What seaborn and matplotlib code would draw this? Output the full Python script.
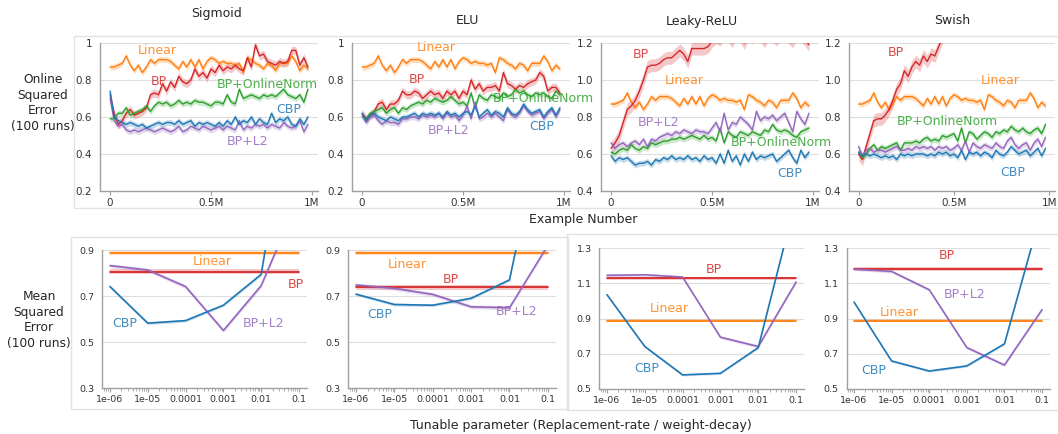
import numpy as np
import matplotlib
matplotlib.use("Agg")
import matplotlib.pyplot as plt
from matplotlib.patches import Rectangle
import seaborn as sns

sns.set_style("white")
plt.rcParams['font.family'] = ['DejaVu Sans']

# ---------------- data: online error (top row) ----------------
examples = np.arange(0, 1_000_000, 20_000)   # checkpoints every 20k examples

linear_online = [0.87, 0.87, 0.88, 0.89, 0.93, 0.88, 0.85, 0.88, 0.84, 0.87,
                 0.91, 0.89, 0.91, 0.91, 0.91, 0.90, 0.88, 0.86, 0.90, 0.87,
                 0.91, 0.87, 0.91, 0.86, 0.90, 0.92, 0.91, 0.89, 0.90, 0.89,
                 0.89, 0.88, 0.89, 0.84, 0.92, 0.91, 0.89, 0.88, 0.86, 0.89,
                 0.88, 0.85, 0.89, 0.89, 0.89, 0.93, 0.90, 0.85, 0.88, 0.86]

sigmoid_bp = [0.72, 0.62, 0.56, 0.58, 0.62, 0.64, 0.61, 0.62, 0.63, 0.65,
              0.72, 0.73, 0.72, 0.78, 0.74, 0.79, 0.76, 0.82, 0.79, 0.78,
              0.80, 0.86, 0.82, 0.84, 0.81, 0.86, 0.84, 0.88, 0.85, 0.87,
              0.86, 0.88, 0.86, 0.85, 0.92, 0.87, 0.99, 0.93, 0.94, 0.90,
              0.89, 0.88, 0.90, 0.89, 0.90, 0.96, 0.96, 0.88, 0.92, 0.87]
sigmoid_norm = [0.59, 0.59, 0.62, 0.62, 0.65, 0.61, 0.62, 0.63, 0.64, 0.66,
                0.63, 0.66, 0.68, 0.67, 0.68, 0.66, 0.67, 0.69, 0.67, 0.68,
                0.67, 0.69, 0.68, 0.68, 0.67, 0.66, 0.68, 0.68, 0.67, 0.72,
                0.68, 0.67, 0.75, 0.70, 0.71, 0.72, 0.71, 0.70, 0.72, 0.71,
                0.72, 0.71, 0.73, 0.75, 0.72, 0.71, 0.70, 0.72, 0.68, 0.75]
sigmoid_cbp = [0.74, 0.60, 0.58, 0.57, 0.56, 0.57, 0.56, 0.55, 0.56, 0.54,
               0.55, 0.56, 0.57, 0.56, 0.57, 0.57, 0.56, 0.58, 0.56, 0.57,
               0.58, 0.55, 0.57, 0.56, 0.57, 0.56, 0.55, 0.57, 0.55, 0.58,
               0.56, 0.60, 0.56, 0.58, 0.57, 0.60, 0.56, 0.59, 0.57, 0.56,
               0.62, 0.57, 0.59, 0.58, 0.60, 0.56, 0.55, 0.59, 0.56, 0.60]
sigmoid_l2 = [0.70, 0.58, 0.55, 0.56, 0.53, 0.52, 0.53, 0.52, 0.53, 0.54,
              0.53, 0.52, 0.53, 0.54, 0.53, 0.52, 0.53, 0.55, 0.52, 0.53,
              0.55, 0.54, 0.53, 0.55, 0.54, 0.53, 0.54, 0.55, 0.53, 0.55,
              0.54, 0.53, 0.58, 0.53, 0.55, 0.54, 0.56, 0.55, 0.56, 0.54,
              0.56, 0.55, 0.54, 0.57, 0.55, 0.54, 0.55, 0.58, 0.52, 0.56]

elu_bp = [0.62, 0.59, 0.61, 0.63, 0.67, 0.68, 0.64, 0.67, 0.67, 0.69,
          0.74, 0.72, 0.72, 0.74, 0.73, 0.70, 0.72, 0.74, 0.72, 0.73,
          0.70, 0.74, 0.72, 0.74, 0.70, 0.74, 0.72, 0.80, 0.75, 0.78,
          0.74, 0.76, 0.76, 0.77, 0.74, 0.84, 0.78, 0.77, 0.75, 0.77,
          0.76, 0.78, 0.79, 0.80, 0.84, 0.82, 0.74, 0.76, 0.76, 0.73]
elu_norm = [0.60, 0.59, 0.62, 0.63, 0.64, 0.65, 0.62, 0.64, 0.65, 0.62,
            0.65, 0.64, 0.66, 0.67, 0.68, 0.67, 0.69, 0.68, 0.70, 0.69,
            0.68, 0.69, 0.71, 0.69, 0.67, 0.68, 0.66, 0.73, 0.65, 0.72,
            0.70, 0.69, 0.72, 0.71, 0.70, 0.73, 0.71, 0.72, 0.75, 0.73,
            0.74, 0.72, 0.71, 0.73, 0.72, 0.73, 0.71, 0.70, 0.74, 0.72]
elu_cbp = [0.62, 0.58, 0.61, 0.62, 0.60, 0.59, 0.58, 0.60, 0.59, 0.58,
           0.60, 0.60, 0.61, 0.62, 0.60, 0.62, 0.61, 0.62, 0.61, 0.62,
           0.60, 0.63, 0.61, 0.62, 0.60, 0.62, 0.63, 0.61, 0.66, 0.60,
           0.62, 0.64, 0.61, 0.63, 0.62, 0.60, 0.65, 0.62, 0.61, 0.63,
           0.67, 0.64, 0.62, 0.63, 0.64, 0.60, 0.63, 0.65, 0.61, 0.65]
elu_l2 = [0.61, 0.57, 0.60, 0.61, 0.58, 0.56, 0.58, 0.57, 0.57, 0.56,
          0.59, 0.59, 0.60, 0.60, 0.59, 0.61, 0.60, 0.61, 0.60, 0.62,
          0.59, 0.62, 0.60, 0.61, 0.58, 0.61, 0.66, 0.59, 0.68, 0.59,
          0.60, 0.62, 0.60, 0.62, 0.60, 0.58, 0.64, 0.61, 0.60, 0.62,
          0.66, 0.63, 0.61, 0.62, 0.63, 0.59, 0.62, 0.64, 0.60, 0.64]

leaky_bp = [0.63, 0.66, 0.70, 0.77, 0.84, 0.86, 0.89, 0.94, 1.00, 1.07,
            1.08, 1.08, 1.09, 1.11, 1.12, 1.12, 1.14, 1.16, 1.14, 1.10,
            1.17, 1.17, 1.17, 1.17, 1.18, 1.21, 1.23, 1.22, 1.25, 1.24,
            1.21, 1.26, 1.24, 1.20, 1.25, 1.23, 1.26, 1.24, 1.21, 1.25,
            1.24, 1.22, 1.25, 1.26, 1.23, 1.21, 1.25, 1.24, 1.22, 1.19]
leaky_norm = [0.61, 0.60, 0.62, 0.63, 0.62, 0.65, 0.63, 0.62, 0.64, 0.63,
              0.66, 0.65, 0.66, 0.67, 0.67, 0.68, 0.68, 0.69, 0.68, 0.69,
              0.70, 0.69, 0.68, 0.70, 0.68, 0.69, 0.67, 0.74, 0.66, 0.72,
              0.70, 0.69, 0.72, 0.71, 0.70, 0.72, 0.71, 0.70, 0.73, 0.72,
              0.76, 0.73, 0.72, 0.73, 0.72, 0.70, 0.69, 0.72, 0.73, 0.74]
leaky_cbp = [0.59, 0.56, 0.58, 0.57, 0.58, 0.56, 0.54, 0.55, 0.55, 0.56,
             0.54, 0.57, 0.56, 0.58, 0.57, 0.59, 0.57, 0.58, 0.57, 0.59,
             0.57, 0.58, 0.56, 0.59, 0.57, 0.58, 0.55, 0.60, 0.55, 0.62,
             0.56, 0.59, 0.54, 0.60, 0.56, 0.61, 0.57, 0.59, 0.58, 0.59,
             0.60, 0.56, 0.58, 0.60, 0.62, 0.58, 0.55, 0.62, 0.58, 0.61]
leaky_l2 = [0.66, 0.63, 0.65, 0.66, 0.64, 0.66, 0.67, 0.65, 0.68, 0.64,
            0.68, 0.67, 0.69, 0.70, 0.71, 0.70, 0.72, 0.71, 0.73, 0.72,
            0.71, 0.73, 0.72, 0.72, 0.71, 0.74, 0.77, 0.72, 0.82, 0.73,
            0.77, 0.76, 0.80, 0.78, 0.76, 0.73, 0.83, 0.78, 0.80, 0.79,
            0.81, 0.78, 0.80, 0.82, 0.77, 0.72, 0.83, 0.79, 0.76, 0.82]

swish_bp = [0.60, 0.57, 0.64, 0.71, 0.78, 0.79, 0.79, 0.81, 0.84, 0.89,
            0.95, 0.98, 1.05, 1.02, 1.07, 1.10, 1.08, 1.13, 1.10, 1.14,
            1.13, 1.18, 1.23, 1.26, 1.29, 1.27, 1.31, 1.34, 1.32, 1.36,
            1.38, 1.35, 1.40, 1.42, 1.39, 1.44, 1.43, 1.46, 1.45, 1.48,
            1.47, 1.50, 1.49, 1.52, 1.50, 1.53, 1.55, 1.52, 1.56, 1.55]
swish_norm = [0.61, 0.58, 0.60, 0.63, 0.65, 0.62, 0.64, 0.63, 0.64, 0.65,
              0.66, 0.62, 0.66, 0.66, 0.66, 0.67, 0.66, 0.68, 0.69, 0.67,
              0.68, 0.67, 0.70, 0.69, 0.70, 0.71, 0.67, 0.74, 0.66, 0.72,
              0.71, 0.68, 0.70, 0.72, 0.71, 0.69, 0.72, 0.71, 0.73, 0.72,
              0.75, 0.73, 0.72, 0.74, 0.72, 0.71, 0.73, 0.74, 0.71, 0.76]
swish_cbp = [0.61, 0.59, 0.60, 0.59, 0.60, 0.59, 0.58, 0.59, 0.58, 0.59,
             0.57, 0.60, 0.59, 0.60, 0.59, 0.60, 0.60, 0.60, 0.59, 0.60,
             0.59, 0.61, 0.60, 0.61, 0.59, 0.60, 0.58, 0.62, 0.57, 0.61,
             0.60, 0.61, 0.59, 0.61, 0.60, 0.58, 0.62, 0.60, 0.59, 0.61,
             0.64, 0.62, 0.60, 0.61, 0.62, 0.59, 0.61, 0.63, 0.59, 0.63]
swish_l2 = [0.64, 0.59, 0.62, 0.63, 0.61, 0.62, 0.62, 0.61, 0.62, 0.63,
            0.64, 0.62, 0.62, 0.63, 0.62, 0.64, 0.63, 0.64, 0.63, 0.64,
            0.62, 0.64, 0.63, 0.64, 0.62, 0.63, 0.65, 0.62, 0.67, 0.61,
            0.66, 0.64, 0.63, 0.65, 0.64, 0.63, 0.66, 0.64, 0.63, 0.67,
            0.69, 0.65, 0.63, 0.65, 0.66, 0.62, 0.66, 0.68, 0.64, 0.69]

# ---------------- data: parameter sweep (bottom row) ----------------
params = [1e-6, 1e-5, 1e-4, 1e-3, 1e-2, 1e-1]
param_labels = ['1e-06', '1e-05', '0.0001', '0.001', '0.01', '0.1']

linear_mse = [0.886, 0.886, 0.887, 0.887]     # Sigmoid, ELU, Leaky-ReLU, Swish
bp_mse = [0.806, 0.737, 1.127, 1.180]
sigmoid_cbp_mse = [0.741, 0.582, 0.593, 0.660, 0.794, 1.78]
sigmoid_l2_mse = [0.832, 0.813, 0.741, 0.550, 0.745, 1.13]
elu_cbp_mse = [0.708, 0.663, 0.660, 0.690, 0.770, 1.56]
elu_l2_mse = [0.748, 0.733, 0.707, 0.653, 0.649, 0.92]
leaky_cbp_mse = [1.035, 0.741, 0.580, 0.589, 0.735, 1.58]
leaky_l2_mse = [1.145, 1.148, 1.135, 0.794, 0.741, 1.107]
swish_cbp_mse = [0.993, 0.659, 0.602, 0.631, 0.756, 1.52]
swish_l2_mse = [1.180, 1.167, 1.063, 0.735, 0.636, 0.950]

activations = ['Sigmoid', 'ELU', 'Leaky-ReLU', 'Swish']

pal = sns.color_palette("tab10")
col = {'CBP': pal[0], 'Linear': pal[1], 'BP+OnlineNorm': pal[2], 'BP': pal[3], 'BP+L2': pal[4]}

W, H = 1058, 434
fig = plt.figure(figsize=(W / 100, H / 100), dpi=100)


def px_axes(left, top, width, bottom):
    return fig.add_axes([left / W, 1 - bottom / H, width / W, (bottom - top) / H])


def band_line(ax, x, y, color, band, lw=1.0):
    y = np.asarray(y, dtype=float)
    ax.fill_between(x, y - band, y + band, color=color, alpha=0.25, lw=0)
    sns.lineplot(x=x, y=y, color=color, lw=lw, ax=ax)


def style_axes(ax, labelsize):
    sns.despine(ax=ax)
    for s in ['left', 'bottom']:
        ax.spines[s].set_color('#a0a0a0')
        ax.spines[s].set_linewidth(1.0)
    ax.yaxis.grid(True, color='#dedede', lw=0.8)
    ax.set_axisbelow(True)
    ax.tick_params(axis='x', which='both', bottom=True, color='#a0a0a0', labelsize=labelsize,
                   labelcolor='#333333', pad=2)
    ax.tick_params(axis='x', which='major', length=3)
    ax.tick_params(axis='x', which='minor', length=2)
    ax.tick_params(axis='y', left=False, labelsize=labelsize, labelcolor='#333333', pad=2)
    ax.set_xlabel('')
    ax.set_ylabel('')


# frames around the panel groups
for (x0, y0, x1, y1) in [(74, 36, 1062, 208), (71, 237, 568, 409), (567, 234, 1062, 410)]:
    fig.patches.append(Rectangle((x0 / W, 1 - y1 / H), (x1 - x0) / W, (y1 - y0) / H,
                                 transform=fig.transFigure, fill=False, ec='#e2e2e2', lw=1, zorder=0))

# ---------------- top row ----------------
top_series = [
    (sigmoid_bp, sigmoid_norm, sigmoid_cbp, sigmoid_l2),
    (elu_bp, elu_norm, elu_cbp, elu_l2),
    (leaky_bp, leaky_norm, leaky_cbp, leaky_l2),
    (swish_bp, swish_norm, swish_cbp, swish_l2),
]
top_lefts = [(100, 218), (352, 218), (601, 218), (849, 206)]
top_ylims = [(0.2, 1.0), (0.2, 1.0), (0.4, 1.2), (0.4, 1.2)]
top_yticks = [([0.2, 0.4, 0.6, 0.8, 1.0], ['0.2', '0.4', '0.6', '0.8', '1']),
              ([0.2, 0.4, 0.6, 0.8, 1.0], ['0.2', '0.4', '0.6', '0.8', '1']),
              ([0.4, 0.6, 0.8, 1.0, 1.2], ['0.4', '0.6', '0.8', '1.0', '1.2']),
              ([0.4, 0.6, 0.8, 1.0, 1.2], ['0.4', '0.6', '0.8', '1.0', '1.2'])]
top_labels = [
    {'Linear': (0.234e6, 0.962), 'BP': (0.24e6, 0.79), 'BP+OnlineNorm': (0.78e6, 0.774),
     'CBP': (0.885e6, 0.64), 'BP+L2': (0.68e6, 0.467)},
    {'Linear': (0.367e6, 0.975), 'BP': (0.27e6, 0.805), 'BP+OnlineNorm': (0.896e6, 0.698),
     'CBP': (0.89e6, 0.55), 'BP+L2': (0.43e6, 0.527)},
    {'BP': (0.148e6, 1.137), 'Linear': (0.36e6, 1.0), 'BP+L2': (0.233e6, 0.772),
     'BP+OnlineNorm': (0.843e6, 0.664), 'CBP': (0.885e6, 0.496)},
    {'BP': (0.198e6, 1.146), 'Linear': (0.743e6, 1.0), 'BP+OnlineNorm': (0.468e6, 0.776),
     'CBP': (0.81e6, 0.501)},
]
title_pos = [(216, 14), (467, 20), (702, 22), (952, 21)]

for i, act in enumerate(activations):
    bp, norm, cbp, l2 = top_series[i]
    left, width = top_lefts[i]
    ax = px_axes(left, 43, width, 191)
    big = 0.035 if i >= 2 else 0.022
    band_line(ax, examples, linear_online, col['Linear'], 0.016)
    band_line(ax, examples, bp, col['BP'], big)
    band_line(ax, examples, norm, col['BP+OnlineNorm'], 0.016)
    band_line(ax, examples, l2, col['BP+L2'], 0.016)
    band_line(ax, examples, cbp, col['CBP'], 0.016)
    ax.set_xlim(-0.05e6, 1.03e6)
    ax.set_ylim(*top_ylims[i])
    ax.set_yticks(top_yticks[i][0])
    ax.set_yticklabels(top_yticks[i][1])
    ax.set_xticks([0, 0.5e6, 1e6])
    ax.set_xticklabels(['0', '0.5M', '1M'])
    style_axes(ax, 7.5)
    for name, (tx, ty) in top_labels[i].items():
        ax.text(tx, ty, name, color=col[name], alpha=0.85, fontsize=9, ha='center', va='center',
                clip_on=False, zorder=5)
    fig.text(title_pos[i][0] / W, 1 - title_pos[i][1] / H, act, fontsize=9, ha='center', va='center')

# ---------------- bottom row ----------------
bottom_series = [
    (sigmoid_cbp_mse, sigmoid_l2_mse),
    (elu_cbp_mse, elu_l2_mse),
    (leaky_cbp_mse, leaky_l2_mse),
    (swish_cbp_mse, swish_l2_mse),
]
bottom_boxes = [(102.4, 250, 204.9, 388), (348.3, 250, 208, 388),
                (599.4, 248, 205, 389), (846.5, 248, 203.8, 389)]
bottom_ylims = [(0.3, 0.9), (0.3, 0.9), (0.5, 1.3), (0.5, 1.3)]
bottom_yticks = [[0.3, 0.5, 0.7, 0.9], [0.3, 0.5, 0.7, 0.9],
                 [0.5, 0.7, 0.9, 1.1, 1.3], [0.5, 0.7, 0.9, 1.1, 1.3]]
bottom_labels = [
    {'Linear': (5.1e-4, 0.852), 'BP': (0.081, 0.751), 'CBP': (2.5e-6, 0.579), 'BP+L2': (0.0117, 0.579)},
    {'Linear': (2.2e-5, 0.838), 'BP': (2.9e-4, 0.773), 'CBP': (4.1e-6, 0.621), 'BP+L2': (0.015, 0.633)},
    {'BP': (6.6e-4, 1.177), 'Linear': (4.5e-5, 0.959), 'CBP': (1.15e-5, 0.618)},
    {'BP': (3e-4, 1.258), 'BP+L2': (8.5e-4, 1.034), 'Linear': (1.6e-5, 0.935), 'CBP': (3.4e-6, 0.607)},
]

for i, act in enumerate(activations):
    cbp, l2 = bottom_series[i]
    l, t, w, b = bottom_boxes[i]
    ax = px_axes(l, t, w, b)
    band_line(ax, params, [linear_mse[i]] * len(params), col['Linear'], 0.008, lw=1.3)
    band_line(ax, params, [bp_mse[i]] * len(params), col['BP'], 0.010, lw=1.3)
    band_line(ax, params, l2, col['BP+L2'], 0.008, lw=1.2)
    band_line(ax, params, cbp, col['CBP'], 0.006, lw=1.2)
    ax.set_xscale('log')
    ax.set_xlim(10 ** -6.2, 10 ** -0.78)
    ax.set_ylim(*bottom_ylims[i])
    ax.set_xticks(params)
    ax.set_xticklabels(param_labels)
    ax.set_yticks(bottom_yticks[i])
    ax.set_yticklabels([f'{v:.1f}' for v in bottom_yticks[i]])
    style_axes(ax, 6.8)
    for name, (tx, ty) in bottom_labels[i].items():
        ax.text(tx, ty, name, color=col[name], alpha=0.85, fontsize=9, ha='center', va='center',
                clip_on=False, zorder=5)

# ---------------- shared labels ----------------
fig.text(43 / W, 1 - 103 / H, 'Online\nSquared\nError\n(100 runs)', fontsize=8.8, ha='center',
         va='center', linespacing=1.25)
fig.text(39 / W, 1 - 320 / H, 'Mean\nSquared\nError\n(100 runs)', fontsize=8.8, ha='center',
         va='center', linespacing=1.25)
fig.text(583 / W, 1 - 220 / H, 'Example Number', fontsize=9, ha='center', va='center')
fig.text(581 / W, 1 - 425 / H, 'Tunable parameter (Replacement-rate / weight-decay)', fontsize=9,
         ha='center', va='center')

fig.savefig('out.png', dpi=100)
